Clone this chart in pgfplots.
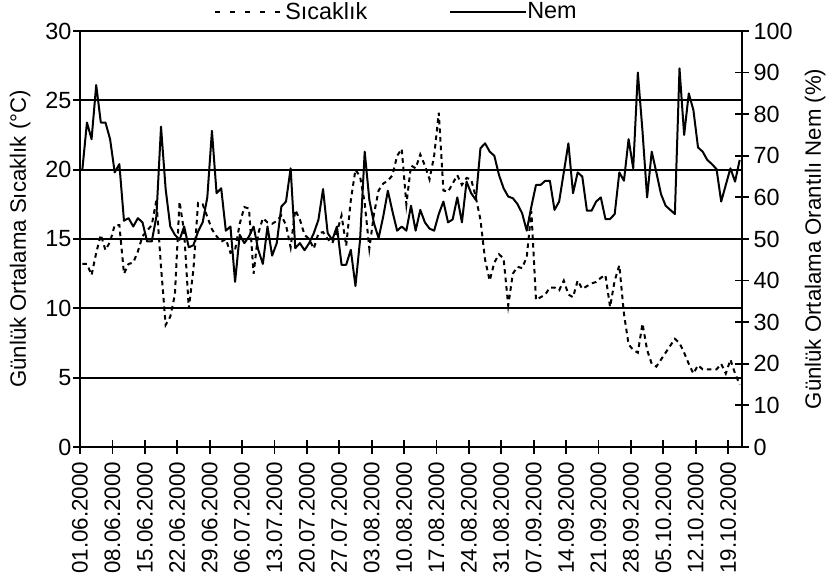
\documentclass[11pt,border=0pt]{standalone}
\usepackage{fontspec}
\setmainfont{Liberation Sans}
\usepackage{pgfplots}
\usepackage{pgfplotstable}
\pgfplotsset{compat=1.18}
\newcommand\cf{\fontsize{11.7}{14}\selectfont}
\newcommand\lf{\fontsize{11.1}{13}\selectfont}

% daily means, 01.06.2000 .. 21.10.2000 (x = day index + 0.5)
\pgfplotstableread{
x T H
0.5 13.2 66.6
1.5 13.2 78
2.5 12.4 74
3.5 14.0 87
4.5 15.3 78
5.5 14.2 78
6.5 14.8 74
7.5 16.0 66
8.5 16.0 68
9.5 12.5 54.4
10.5 13.2 55
11.5 13.3 53
12.5 14.1 55
13.5 15.2 54
14.5 15.6 49.4
15.5 16.0 49.4
16.5 17.8 55.4
17.5 13.0 77
18.5 8.8 62
19.5 9.4 53
20.5 11.0 51
21.5 17.7 49.8
22.5 15.5 53
23.5 10.0 48
24.5 12.8 48.5
25.5 17.6 51.8
26.5 17.5 54
27.5 16.6 60
28.5 15.7 76
29.5 15.2 61
30.5 14.8 62.2
31.5 15.0 52
32.5 14.0 53
33.5 14.2 39.7
34.5 16.1 51
35.5 17.3 49
36.5 17.2 50.6
37.5 12.5 53
38.5 15.4 47.4
39.5 16.5 44
40.5 16.2 53
41.5 16.1 46
42.5 16.3 49
43.5 16.7 57.8
44.5 16.0 59
45.5 14.4 67
46.5 17.1 47.8
47.5 16.4 49
48.5 15.3 47.3
49.5 15.0 49
50.5 14.3 51.4
51.5 15.4 54.6
52.5 15.5 62
53.5 15.0 51.4
54.5 14.7 49.8
55.5 15.5 53
56.5 16.7 43.8
57.5 14.5 43.8
58.5 17.8 47.4
59.5 20.0 38.7
60.5 19.5 49.8
61.5 17.6 71
62.5 14.3 59.4
63.5 16.8 53.8
64.5 18.5 50.2
65.5 19.0 55.4
66.5 19.2 61.6
67.5 19.6 56.6
68.5 21.0 52
69.5 21.5 53
70.5 17.5 52
71.5 20.3 58
72.5 20.1 52
73.5 21.1 57
74.5 20.3 54
75.5 19.3 52.5
76.5 21.0 52
77.5 24.1 56
78.5 18.5 59
79.5 18.4 54
80.5 19.0 54.7
81.5 19.6 60
82.5 18.9 54
83.5 19.4 63.8
84.5 19.3 61
85.5 18.0 59.4
86.5 16.4 71.8
87.5 13.5 73
88.5 12.0 71
89.5 13.3 70
90.5 13.9 65.4
91.5 13.6 62.2
92.5 10.2 60.2
93.5 12.5 59.8
94.5 13.0 58.4
95.5 12.9 56.2
96.5 13.7 52
97.5 17.0 57.8
98.5 10.6 63
99.5 10.8 63
100.5 11.0 64
101.5 11.5 64
102.5 11.5 57
103.5 11.3 59
104.5 12.0 66
105.5 11.0 73
106.5 10.8 61
107.5 12.0 66
108.5 11.4 65
109.5 11.6 56.8
110.5 11.8 56.8
111.5 11.9 59
112.5 12.2 60
113.5 12.4 54.8
114.5 10.1 54.8
115.5 12.0 56
116.5 13.1 66
117.5 9.6 64
118.5 7.4 74
119.5 7.0 67
120.5 6.8 90
121.5 8.9 76
122.5 7.0 60
123.5 6.0 71
124.5 5.8 66
125.5 6.3 60.8
126.5 6.8 58
127.5 7.3 57
128.5 7.8 56
129.5 7.5 91
130.5 6.8 75
131.5 6.0 85
132.5 5.3 81
133.5 5.9 72
134.5 5.6 71
135.5 5.6 69
136.5 5.6 68
137.5 5.6 66.8
138.5 6.0 59
139.5 5.3 63
140.5 6.3 67
141.5 5.3 63.8
142.5 4.5 69
}\meteo

\pgfplotsset{
  common/.style={
    scale only axis, width=331pt, height=208pt,
    xmin=0, xmax=143,
    tick align=center, major tick length=7pt,
    tick style={black, line width=0.9pt},
    axis line style={black, line width=1pt},
    /pgf/number format/assume math mode=true,
    tick label style={font=\cf},
    label style={font=\lf},
  },
  % solid legend sample runs right up to its text
  nemleg/.style={legend image code/.code={\draw[##1] (0pt,0pt) -- (36pt,0pt);
      \draw[##1, overlay] (36pt,0pt) -- (38pt,0pt);}},
}

\begin{document}
\begin{tikzpicture}
\begin{axis}[
    common,
    name=main,
    ymin=0, ymax=30,
    ytick={0,5,...,30},
    xtick={0,7,...,140},
    xtick pos=bottom, ytick pos=left,
    xticklabels={01.06.2000,08.06.2000,15.06.2000,22.06.2000,29.06.2000,06.07.2000,13.07.2000,20.07.2000,27.07.2000,03.08.2000,10.08.2000,17.08.2000,24.08.2000,31.08.2000,07.09.2000,14.09.2000,21.09.2000,28.09.2000,05.10.2000,12.10.2000,19.10.2000},
    xticklabel style={rotate=90, anchor=east, font=\fontsize{11.2}{13}\selectfont},
    xticklabel shift=0pt,
    yticklabel shift=-3pt,
    ymajorgrids=true,
    grid style={black, line width=1pt},
    ylabel={Günlük Ortalama Sıcaklık (°C)},
    ylabel style={at={(axis description cs:-0.0906,0.5)}, anchor=center, inner sep=0pt},
]
\addplot[black, line width=1pt, dash pattern=on 2.3pt off 2pt] table[x=x, y=T] {\meteo};
\end{axis}

\begin{axis}[
    common,
    ymin=0, ymax=100,
    ytick={0,10,...,100},
    axis x line=none,
    axis y line*=right,
    yticklabel shift=-1.5pt,
    ylabel={Günlük Ortalama Orantılı Nem (\%)},
    ylabel style={at={(axis description cs:1.1103,0.5)}, anchor=center, inner sep=0pt},
    legend columns=2,
    legend style={draw=none, fill=none, at={(0.4796,1)}, anchor=south, yshift=0pt,
        font=\cf,
        /tikz/every even column/.append style={column sep=39pt}},
    legend image code/.code={\draw[#1] (0pt,0pt) -- (32.5pt,0pt);},
]
\addlegendimage{black, line width=1pt, dash pattern=on 2.5pt off 5pt}
\addlegendentry{Sıcaklık}
\addplot[black, line width=1pt, line join=round, nemleg] table[x=x, y=H] {\meteo};
\addlegendentry{Nem}
\end{axis}

% page = reference frame around the plot area
\pgfresetboundingbox
\path ([xshift=-40pt,yshift=-65.5pt]main.south west) rectangle ([xshift=44pt,yshift=15.5pt]main.north east);
\end{tikzpicture}
\end{document}
